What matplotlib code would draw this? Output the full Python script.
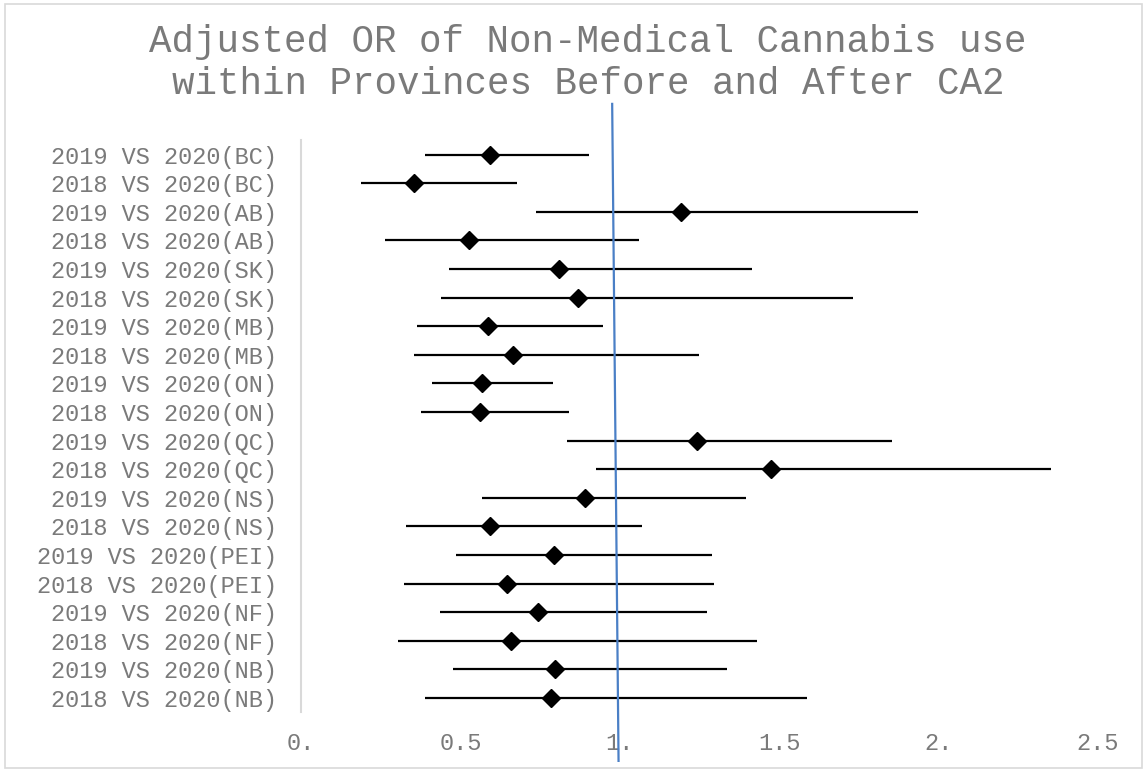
import matplotlib
matplotlib.use("Agg")
import matplotlib.pyplot as plt
from matplotlib.patches import Rectangle

# Comparisons (top to bottom) with adjusted odds ratios and 95% CIs
labels = [
    "2019 VS 2020(BC)", "2018 VS 2020(BC)",
    "2019 VS 2020(AB)", "2018 VS 2020(AB)",
    "2019 VS 2020(SK)", "2018 VS 2020(SK)",
    "2019 VS 2020(MB)", "2018 VS 2020(MB)",
    "2019 VS 2020(ON)", "2018 VS 2020(ON)",
    "2019 VS 2020(QC)", "2018 VS 2020(QC)",
    "2019 VS 2020(NS)", "2018 VS 2020(NS)",
    "2019 VS 2020(PEI)", "2018 VS 2020(PEI)",
    "2019 VS 2020(NF)", "2018 VS 2020(NF)",
    "2019 VS 2020(NB)", "2018 VS 2020(NB)",
]
odds_ratio = [0.592, 0.355, 1.191, 0.526, 0.808, 0.869, 0.587, 0.664, 0.568, 0.562,
              1.243, 1.473, 0.890, 0.592, 0.792, 0.647, 0.744, 0.658, 0.798, 0.785]
ci_low = [0.390, 0.188, 0.737, 0.262, 0.464, 0.438, 0.365, 0.355, 0.410, 0.376,
          0.834, 0.924, 0.567, 0.329, 0.487, 0.324, 0.436, 0.305, 0.478, 0.390]
ci_high = [0.903, 0.678, 1.934, 1.060, 1.414, 1.730, 0.946, 1.247, 0.790, 0.842,
           1.854, 2.353, 1.397, 1.068, 1.290, 1.296, 1.273, 1.430, 1.337, 1.586]
x_ticks = [0.0, 0.5, 1.0, 1.5, 2.0, 2.5]
x_tick_labels = ["0.", "0.5", "1.", "1.5", "2.", "2.5"]

MONO = ["Liberation Mono", "DejaVu Sans Mono"]
TEXT_GREY = "#7a7a7a"

fig = plt.figure(figsize=(11.46, 7.70), dpi=100)
ax = fig.add_axes([0.2627, 0.0750, 0.6954, 0.7429])

# outer chart frame
fig.patches.append(Rectangle((5 / 1146, 2 / 770), 1137 / 1146, 764 / 770,
                             transform=fig.transFigure, fill=False,
                             edgecolor="#d9d9d9", linewidth=1.2))

ypos = list(range(len(labels)))
for y, lo, hi in zip(ypos, ci_low, ci_high):
    ax.plot([lo, hi], [y, y], color="black", linewidth=1.6, solid_capstyle="butt", zorder=2)
ax.plot(odds_ratio, ypos, linestyle="none", marker="D", markersize=9,
        color="black", zorder=3)

# line of no effect (OR = 1), extending beyond the plot area
ax.plot([0.976, 0.996], [-1.77, 21.2], color="#4a7fc6", linewidth=1.6,
        clip_on=False, zorder=4)

ax.set_xlim(0, 2.5)
ax.set_ylim(len(labels) - 0.5, -0.5)
ax.set_yticks(ypos)
ax.set_yticklabels(labels, family=MONO, fontsize=17, color=TEXT_GREY)
ax.set_xticks(x_ticks)
ax.set_xticklabels(x_tick_labels, family=MONO, fontsize=17, color=TEXT_GREY)
ax.tick_params(axis="y", length=0, pad=17)
ax.tick_params(axis="x", length=0, pad=14)

for side in ("top", "right", "bottom"):
    ax.spines[side].set_visible(False)
ax.spines["left"].set_color("#d9d9d9")
ax.spines["left"].set_linewidth(1.5)

fig.text(0.513, 0.946, "Adjusted OR of Non-Medical Cannabis use",
         ha="center", va="center", family=MONO, fontsize=27, color=TEXT_GREY)
fig.text(0.513, 0.891, "within Provinces Before and After CA2",
         ha="center", va="center", family=MONO, fontsize=27, color=TEXT_GREY)

fig.savefig("out.png", dpi=100)
